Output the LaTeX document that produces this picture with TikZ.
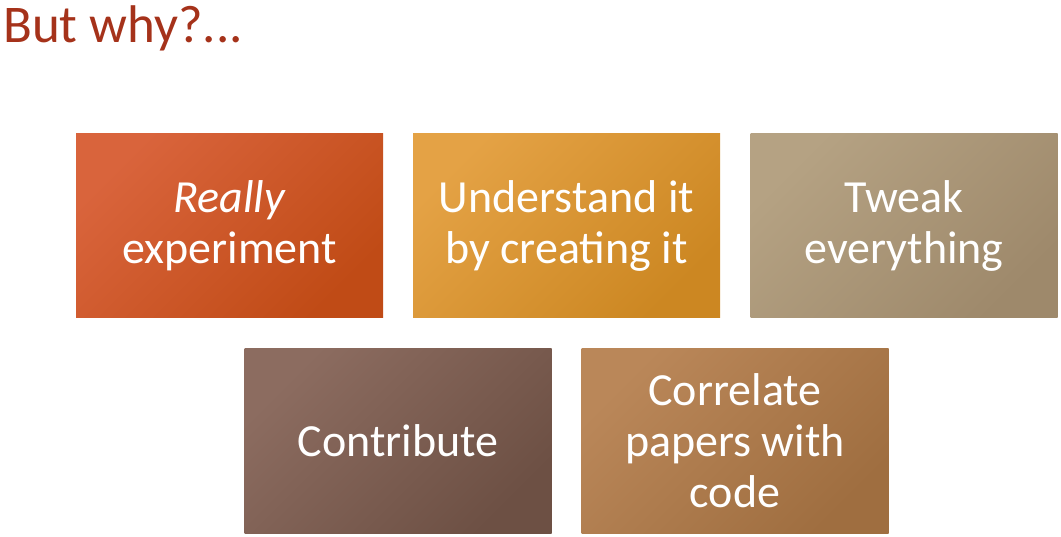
\documentclass[tikz,border=0pt]{standalone}
\usepackage{fontspec}
\setmainfont{Carlito}
\definecolor{titlered}{HTML}{A5321A}
\definecolor{orangeA}{HTML}{D9643C}
\definecolor{orangeB}{HTML}{D35617}
\definecolor{orangeC}{HTML}{C04B16}
\definecolor{goldA}{HTML}{E4A245}
\definecolor{goldB}{HTML}{E09A22}
\definecolor{goldC}{HTML}{CC8722}
\definecolor{sandA}{HTML}{B5A283}
\definecolor{sandB}{HTML}{AA9577}
\definecolor{sandC}{HTML}{9E896B}
\definecolor{cocoaA}{HTML}{8C6C60}
\definecolor{cocoaB}{HTML}{7E6154}
\definecolor{cocoaC}{HTML}{6D5044}
\definecolor{copperA}{HTML}{BA8759}
\definecolor{copperB}{HTML}{B07B48}
\definecolor{copperC}{HTML}{9F6E40}
\begin{document}
\begin{tikzpicture}[x=1pt,y=-1pt]
        \tikzset{card/.style = {shape=rectangle,minimum width=307pt,minimum height=184pt,inner sep=0pt,align=center,text=white,font=\fontsize{46}{51}\selectfont}}
        \tikzset{tint/.style n args = {3}{top color=#1,middle color=#2,bottom color=#3,shading angle=45}}
        \useasboundingbox (0,0) rectangle (1061,537);
        % heading
        \node[anchor=base west,inner sep=0pt,text=titlered,font=\fontsize{53}{60}\selectfont] (title) at (3,43) {But why?...};
        % upper row
        \node[card,tint={orangeA}{orangeB}{orangeC}] (really) at (229.5,226) {\textit{Really}\\experiment};
        \node[card,tint={goldA}{goldB}{goldC}] (understand) at (566.5,226) {Understand it\\by creating it};
        \node[card,tint={sandA}{sandB}{sandC}] (tweak) at (904,226) {Tweak\\everything};
        % lower row
        \node[card,tint={cocoaA}{cocoaB}{cocoaC}] (contribute) at (398,441) {Contribute};
        \node[card,tint={copperA}{copperB}{copperC}] (correlate) at (735,441) {Correlate\\papers with\\code};
\end{tikzpicture}
\end{document}
